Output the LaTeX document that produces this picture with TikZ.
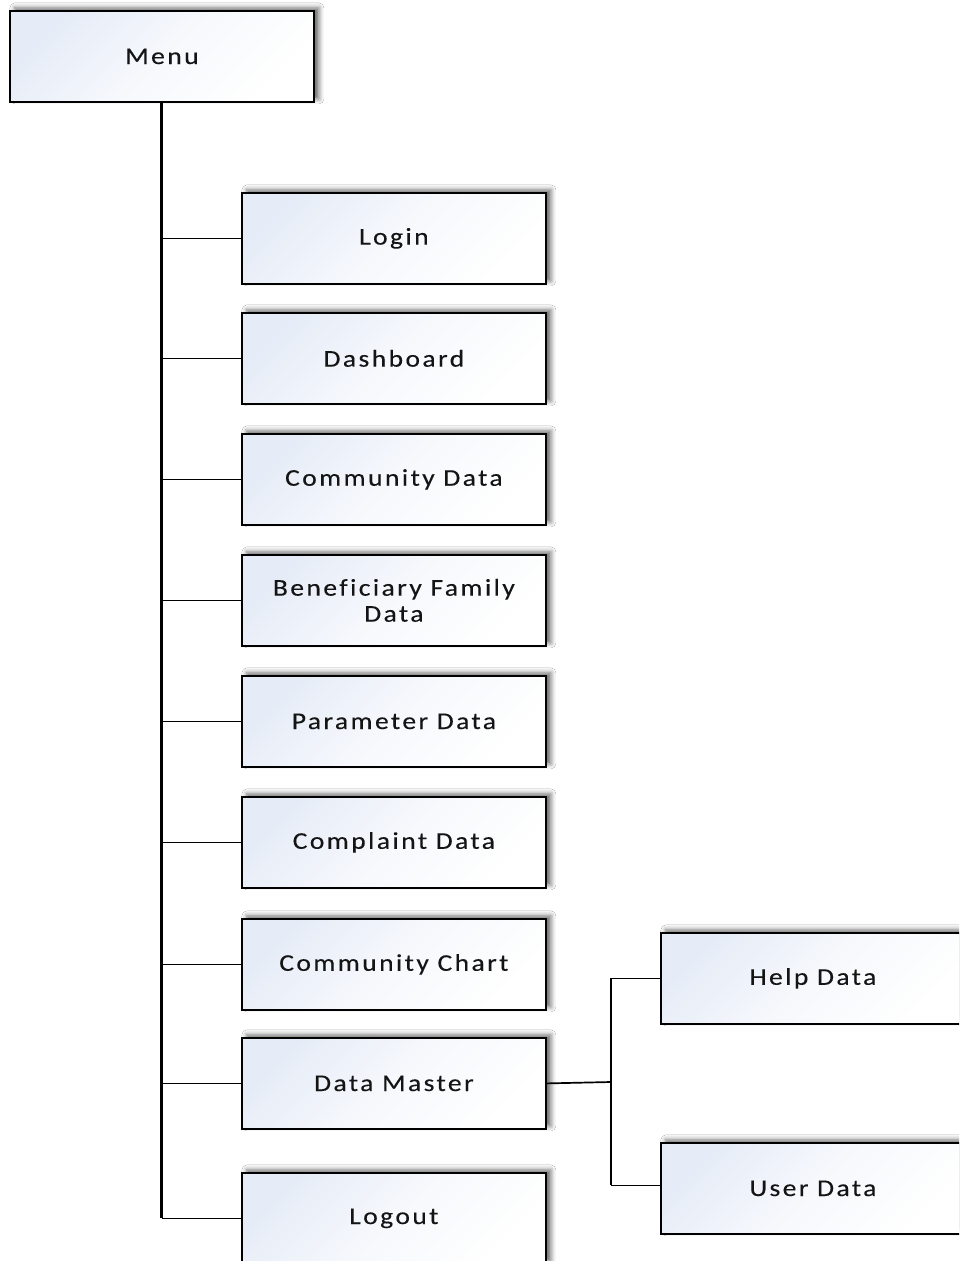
\documentclass[tikz,border=0pt]{standalone}
\usepackage{fontspec}
\setmainfont{Carlito}[LetterSpace=10, FakeStretch=1.15, FakeBold=0.2, Ligatures=CommonOff]
\usetikzlibrary{shadows.blur}
\definecolor{boxtint}{HTML}{E6ECF7}
\definecolor{inkgrey}{HTML}{141414}
\tikzset{
  menubox/.style={
    draw=black, line width=1.8pt,
    top color=boxtint, bottom color=white, middle color=white!65!boxtint,
    shading angle=45,
    minimum width=304pt, minimum height=91pt, inner sep=0pt,
    anchor=north west, align=center,
    font=\fontsize{24}{26}\selectfont, text=inkgrey,
    blur shadow={shadow xshift=5pt, shadow yshift=3pt,
                 shadow blur radius=5pt, shadow opacity=60}
  },
  trunk/.style={line width=3pt, black},
  twig/.style={line width=1.7pt, black}
}
\begin{document}
\begin{tikzpicture}[x=1pt, y=-1pt]
  \useasboundingbox (0,0) rectangle (959,1261);
  \clip (0,0) rectangle (959,1261);
  \fill[white] (0,0) rectangle (959,1261);

  % root entry
  \node[menubox] (menu) at (9,10) {Menu};

  % menu entries
  \node[menubox] (login)   at (241,192)  {Login};
  \node[menubox] (dash)    at (241,312)  {Dashboard};
  \node[menubox] (commdat) at (241,433)  {Community Data};
  \node[menubox] (benef)   at (241,554)  {Beneficiary Family\\Data};
  \node[menubox] (param)   at (241,675)  {Parameter Data};
  \node[menubox] (compl)   at (241,796)  {Complaint Data};
  \node[menubox] (chart)   at (241,918)  {Community Chart};
  \node[menubox] (master)  at (241,1037) {Data Master};
  \node[menubox] (logout)  at (241,1172) {Logout};

  % data master sub-entries
  \node[menubox] (help) at (660,932)  {Help Data};
  \node[menubox] (user) at (660,1142) {User Data};

  % trunk and branches
  \draw[trunk] (menu.south) -- (menu.south |- logout.west);
  \foreach \b in {login,dash,commdat,benef,param,compl,chart,master,logout}
    \draw[twig] (menu.south |- \b.west) -- (\b.west);

  % data master split
  \coordinate (split) at (611,1082);
  \draw[twig] (master.east) -- (split);
  \draw[twig] (help.west) -- (help.west -| split);
  \draw[twig] ([yshift=3pt]user.west) -- ([yshift=3pt]user.west -| split);
  \draw[trunk, line width=2.3pt] (help.west -| split) -- ([yshift=3pt]user.west -| split);
\end{tikzpicture}
\end{document}
